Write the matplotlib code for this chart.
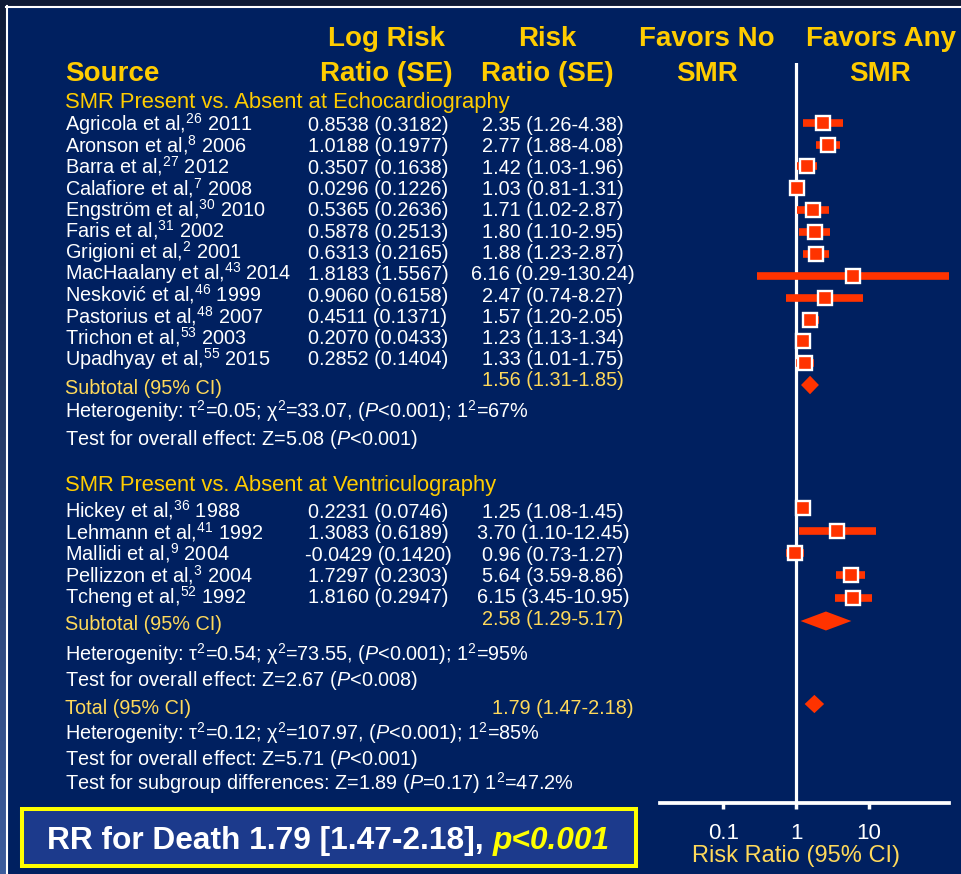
import matplotlib
matplotlib.use("Agg")
import matplotlib.pyplot as plt
import numpy as np
from matplotlib.patches import Rectangle

plt.rcParams['font.family'] = ['Liberation Sans', 'DejaVu Sans']
plt.rcParams['mathtext.fontset'] = 'custom'
plt.rcParams['mathtext.rm'] = 'Liberation Sans'
plt.rcParams['mathtext.it'] = 'Liberation Sans:italic'
plt.rcParams['mathtext.bf'] = 'Liberation Sans:bold'
plt.rcParams['mathtext.default'] = 'regular'

# ---------------- data ----------------
names1 = ["Agricola", "Aronson", "Barra", "Calafiore", "Engström", "Faris",
          "Grigioni", "MacHaalany", "Nesković", "Pastorius", "Trichon", "Upadhyay"]
refs1 = ["26", "8", "27", "7", "30", "31", "2", "43", "46", "48", "53", "55"]
years1 = [2011, 2006, 2012, 2008, 2010, 2002, 2001, 2014, 1999, 2007, 2003, 2015]
logrr1 = [0.8538, 1.0188, 0.3507, 0.0296, 0.5365, 0.5878, 0.6313, 1.8183, 0.9060, 0.4511, 0.2070, 0.2852]
se1 = [0.3182, 0.1977, 0.1638, 0.1226, 0.2636, 0.2513, 0.2165, 1.5567, 0.6158, 0.1371, 0.0433, 0.1404]
rr1 = [2.35, 2.77, 1.42, 1.03, 1.71, 1.80, 1.88, 6.16, 2.47, 1.57, 1.23, 1.33]
lo1 = [1.26, 1.88, 1.03, 0.81, 1.02, 1.10, 1.23, 0.29, 0.74, 1.20, 1.13, 1.01]
hi1 = [4.38, 4.08, 1.96, 1.31, 2.87, 2.95, 2.87, 130.24, 8.27, 2.05, 1.34, 1.75]

names2 = ["Hickey", "Lehmann", "Mallidi", "Pellizzon", "Tcheng"]
refs2 = ["36", "41", "9", "3", "52"]
years2 = [1988, 1992, 2004, 2004, 1992]
logrr2 = [0.2231, 1.3083, -0.0429, 1.7297, 1.8160]
se2 = [0.0746, 0.6189, 0.1420, 0.2303, 0.2947]
rr2 = [1.25, 3.70, 0.96, 5.64, 6.15]
lo2 = [1.08, 1.10, 0.73, 3.59, 3.45]
hi2 = [1.45, 12.45, 1.27, 8.86, 10.95]

sub1 = [1.56, 1.31, 1.85]
sub2 = [2.58, 1.29, 5.17]
total = [1.79, 1.47, 2.18]

group_titles = ["SMR Present vs. Absent at Echocardiography",
                "SMR Present vs. Absent at Ventriculography"]
het1 = r"Heterogenity: τ$^{2}$=0.05; χ$^{2}$=33.07, ($\mathit{P}$<0.001); 1$^{2}$=67%"
eff1 = r"Test for overall effect: Z=5.08 ($\mathit{P}$<0.001)"
het2 = r"Heterogenity: τ$^{2}$=0.54; χ$^{2}$=73.55, ($\mathit{P}$<0.001); 1$^{2}$=95%"
eff2 = r"Test for overall effect: Z=2.67 ($\mathit{P}$<0.008)"
het_t = r"Heterogenity: τ$^{2}$=0.12; χ$^{2}$=107.97, ($\mathit{P}$<0.001); 1$^{2}$=85%"
eff_t = r"Test for overall effect: Z=5.71 ($\mathit{P}$<0.001)"
subgrp = r"Test for subgroup differences: Z=1.89 ($\mathit{P}$=0.17) 1$^{2}$=47.2%"
ticks = [0.1, 1, 10]
tick_labels = ["0.1", "1", "10"]

# ---------------- style ----------------
NAVY = "#002060"
DARK = "#0e1a36"
HEAD = "#FFCC00"
PALE = "#FFD95A"
RED = "#FF3300"
W, H = 961, 874

fig = plt.figure(figsize=(W / 100, H / 100), dpi=100)
fig.patch.set_facecolor(DARK)
bg = fig.add_axes([0, 0, 1, 1])
bg.set_xlim(0, W)
bg.set_ylim(H, 0)
bg.axis("off")

# left gradient strip
grad = np.linspace(0, 1, 256)[:, None]
c0 = np.array([0x0e, 0x1a, 0x36]) / 255
c1 = np.array([0x3c, 0x5c, 0x9c]) / 255
img = c0[None, None, :] * (1 - grad[:, :, None]) + c1[None, None, :] * grad[:, :, None]
bg.imshow(img, extent=[0, 5.5, H, 0], aspect="auto", zorder=0)
bg.add_patch(Rectangle((6, 6), W, H, facecolor=NAVY, edgecolor="none", zorder=1))
bg.plot([6.5, 6.5], [6, H], color="white", lw=1.5, zorder=2)
bg.plot([6, W], [6.5, 6.5], color="white", lw=1.5, zorder=2)


def T(x, yc, s, size, color="white", ha="left", **kw):
    em = size / 0.72
    return bg.text(x, yc + 0.358 * em, s, fontsize=size, color=color, ha=ha,
                   va="baseline", zorder=5, **kw)


BODY = 14.3
HSZ = 20
# headers
T(65, 71, "Source", HSZ, HEAD, fontweight="bold")
T(386, 36, "Log Risk", HSZ, HEAD, ha="center", fontweight="bold")
T(386, 71, "Ratio (SE)", HSZ, HEAD, ha="center", fontweight="bold")
T(547.5, 36, "Risk", HSZ, HEAD, ha="center", fontweight="bold")
T(547.5, 71, "Ratio (SE)", HSZ, HEAD, ha="center", fontweight="bold")
T(707, 36, "Favors No", HSZ, HEAD, ha="center", fontweight="bold")
T(707, 71, "SMR", HSZ, HEAD, ha="center", fontweight="bold")
T(881, 36, "Favors Any", HSZ, HEAD, ha="center", fontweight="bold")
T(880, 71, "SMR", HSZ, HEAD, ha="center", fontweight="bold")

# group 1 text
T(65, 100, group_titles[0], 15.8, HEAD)
for i in range(len(names1)):
    yc = 124 + i * 21.3
    T(65, yc, f"{names1[i]} et al,$^{{{refs1[i]}}}$ {years1[i]}", BODY)
    T(378, yc, f"{logrr1[i]:.4f} ({se1[i]:.4f})", BODY, ha="center")
    T(553, yc, f"{rr1[i]:.2f} ({lo1[i]:.2f}-{hi1[i]:.2f})", BODY, ha="center")
T(65, 387, "Subtotal (95% CI)", BODY, PALE)
T(553, 379, f"{sub1[0]:.2f} ({sub1[1]:.2f}-{sub1[2]:.2f})", BODY, PALE, ha="center")
T(65, 411, het1, BODY)
T(65, 437.5, eff1, BODY)

# group 2 text
T(65, 483.5, group_titles[1], 15.8, HEAD)
for i in range(len(names2)):
    yc = 511 + i * 21.3
    T(65, yc, f"{names2[i]} et al,$^{{{refs2[i]}}}$ {years2[i]}", BODY)
    T(378, yc, f"{logrr2[i]:.4f} ({se2[i]:.4f})", BODY, ha="center")
    T(553, yc, f"{rr2[i]:.2f} ({lo2[i]:.2f}-{hi2[i]:.2f})", BODY, ha="center")
T(65, 622.5, "Subtotal (95% CI)", BODY, PALE)
T(553, 618, f"{sub2[0]:.2f} ({sub2[1]:.2f}-{sub2[2]:.2f})", BODY, PALE, ha="center")
T(65, 654, het2, BODY)
T(65, 679, eff2, BODY)
T(65, 707, "Total (95% CI)", BODY, PALE)
T(563, 707, f"{total[0]:.2f} ({total[1]:.2f}-{total[2]:.2f})", BODY, PALE, ha="center")
T(65, 733, het_t, BODY)
T(65, 758, eff_t, BODY)
T(65, 783, subgrp, BODY)

# summary box
bg.add_patch(Rectangle((21.8, 809.3), 613.8, 57, facecolor="#1c3a8c",
                       edgecolor="#FFFF00", lw=2.9, zorder=3))
BSZ = 22.8
p1 = T(0, 837.5, f"RR for Death {total[0]:.2f} [{total[1]:.2f}-{total[2]:.2f}], ", BSZ,
       "white", fontweight="bold")
p2 = T(0, 837.5, "p<0.001", BSZ, "#FFFF00", fontweight="bold", fontstyle="italic")
fig.canvas.draw()
r = fig.canvas.get_renderer()
w1 = p1.get_window_extent(r).width
w2 = p2.get_window_extent(r).width
x0 = 328.5 - (w1 + w2) / 2
p1.set_x(x0)
p2.set_x(x0 + w1)

# ---------------- forest axes ----------------
X0, X1, Y0, Y1 = 660, 949.3, 63, 802.5
XREF, DEC = 796, 72.7
fx = fig.add_axes([X0 / W, (H - Y1) / H, (X1 - X0) / W, (Y1 - Y0) / H])
fx.set_facecolor("none")
fx.set_xscale("log")
fx.set_xlim(10 ** ((X0 - XREF) / DEC), 10 ** ((X1 - XREF) / DEC))
fx.set_ylim(Y1, Y0)
for s in ["top", "left", "right"]:
    fx.spines[s].set_visible(False)
fx.spines["bottom"].set_color("white")
fx.spines["bottom"].set_linewidth(2.7)
fx.set_yticks([])
fx.set_xticks(ticks)
fx.set_xticklabels(tick_labels)
fx.xaxis.set_minor_locator(matplotlib.ticker.NullLocator())
fx.tick_params(axis="x", colors="white", labelcolor="white", labelsize=16,
               length=4.5, width=2.5, pad=10)
fx.set_xlabel("Risk Ratio (95% CI)", color=PALE, fontsize=17)
fx.xaxis.set_label_coords((XREF - X0) / (X1 - X0), (Y1 - 845) / (Y1 - Y0))
fx.axvline(1, color="white", lw=2.3, zorder=2)


def study_marks(rr, lo, hi, y):
    fx.hlines(y, lo, hi, color=RED, lw=5.5, zorder=3, capstyle="butt")
    fx.plot(rr, y, "s", ms=9.4, mfc=RED, mec="white", mew=1.7, zorder=4, ls="none")


y1 = [122.7 + i * 21.87 for i in range(len(rr1))]
y2 = [508.3 + i * 22.35 for i in range(len(rr2))]
study_marks(rr1, lo1, hi1, y1)
study_marks(rr2, lo2, hi2, y2)

PADPX = 3.5  # visual widening of diamond tips, in pixels


def diamond(vals, yc, h):
    est, lo, hi = vals
    f = 10 ** (PADPX / DEC)
    fx.fill([lo / f, est, hi * f, est], [yc, yc - h / 2, yc, yc + h / 2], color=RED,
            zorder=4, lw=0)


diamond(sub1, 385, 18.5)
diamond(sub2, 621, 19)
diamond(total, 704, 18.3)

fig.savefig("out.png", dpi=100, facecolor=fig.get_facecolor())
